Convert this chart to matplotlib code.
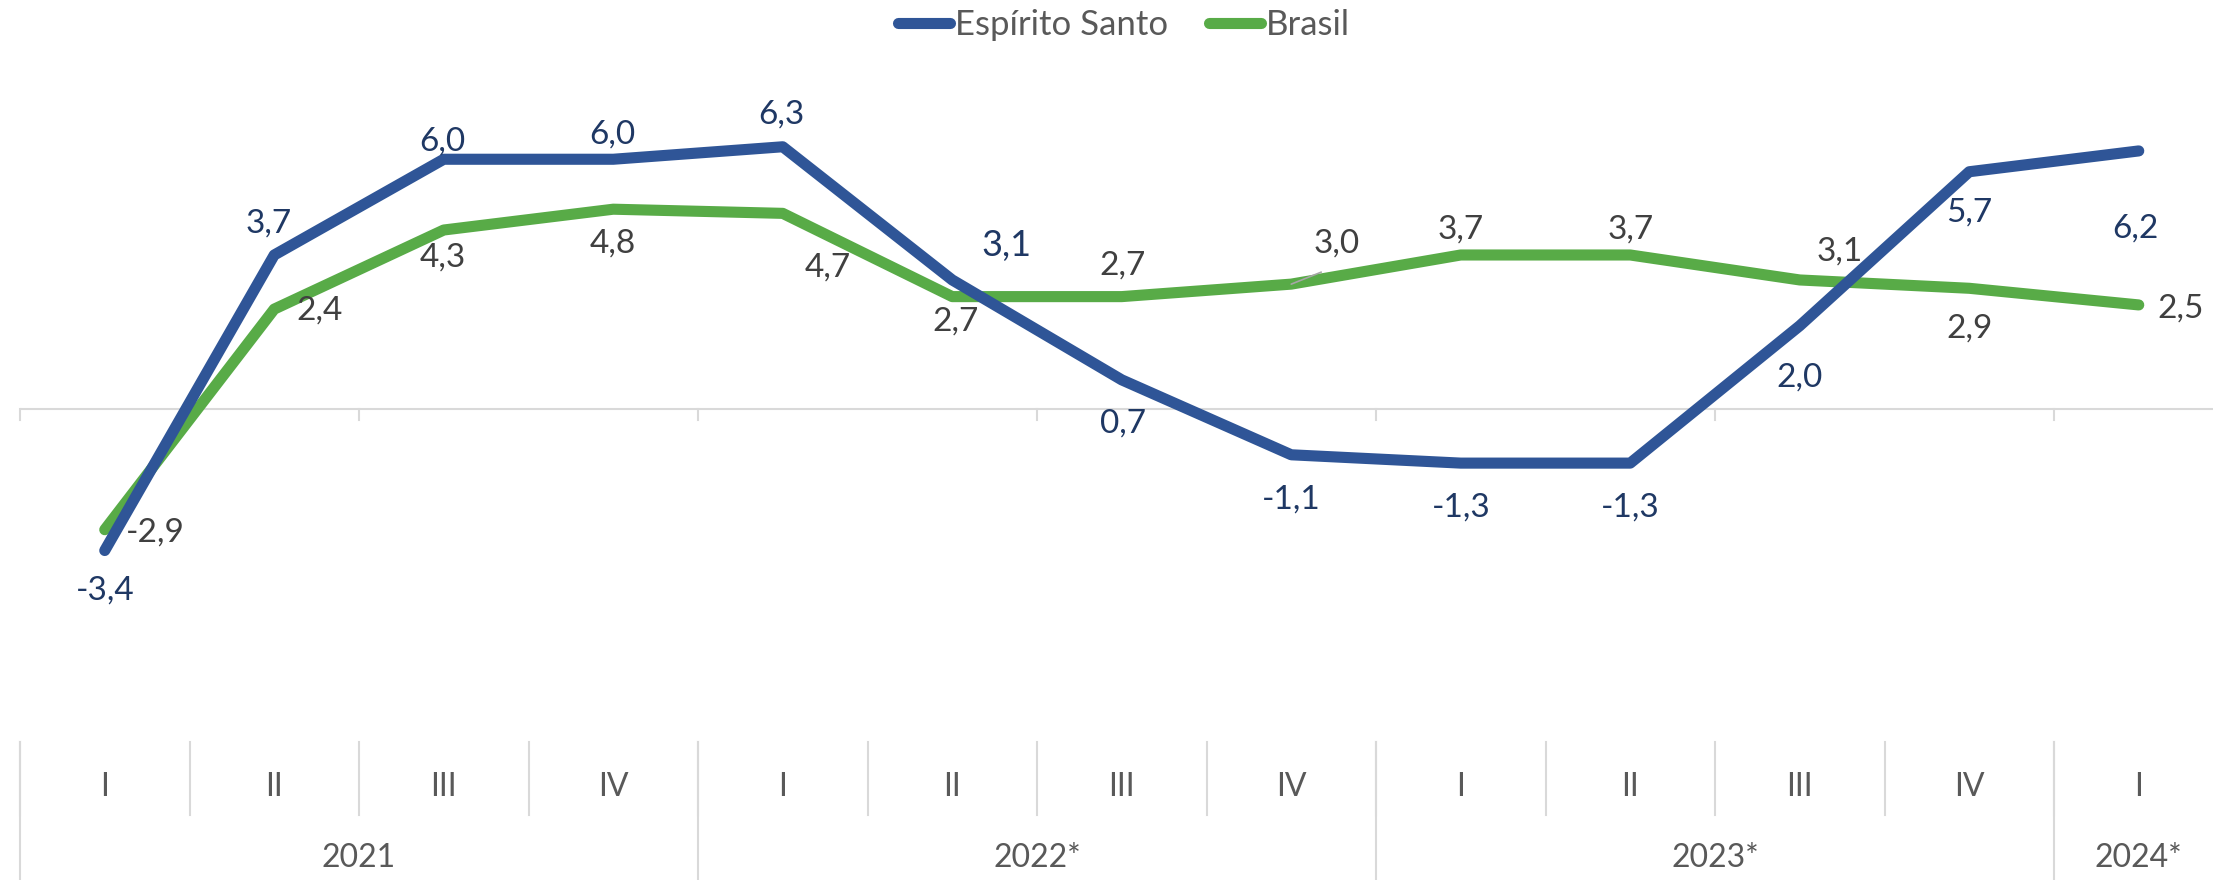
import matplotlib
matplotlib.use('Agg')
import matplotlib.pyplot as plt
import numpy as np

plt.rcParams['font.family'] = ['Lato', 'DejaVu Sans']

# data
quarters = ['I', 'II', 'III', 'IV', 'I', 'II', 'III', 'IV', 'I', 'II', 'III', 'IV', 'I']
years = ['2021', '2022*', '2023*', '2024*']
quarters_per_year = [4, 4, 4, 1]
espirito_santo = [-3.4, 3.7, 6.0, 6.0, 6.3, 3.1, 0.7, -1.1, -1.3, -1.3, 2.0, 5.7, 6.2]
brasil = [-2.9, 2.4, 4.3, 4.8, 4.7, 2.7, 2.7, 3.0, 3.7, 3.7, 3.1, 2.9, 2.5]

# label offsets in pixels (dx, dy)
es_offsets = [(0, -40), (-6, 31), (-1, 18), (-1, 25), (-1, 32), (54, 34), (1, -44),
              (0, -45), (0, -44), (0, -44), (0, -52), (0, -41), (-3, -78)]
br_offsets = [(51, -3), (45, -1), (-1, -28), (0, -34), (45, -54), (3, -25), (1, 31),
              (45, 41), (0, 25), (0, 25), (40, 28), (0, -40), (42, -4)]

BLUE = '#2F5597'
GREEN = '#58AB47'
NAVY = '#1F3864'
DARK = '#404040'
GRID = '#D9D9D9'
TXT = '#595959'

W, H = 2213, 880
fig = plt.figure(figsize=(W / 100, H / 100), dpi=100)
cell = 169.5
ax = fig.add_axes([20 / W, 1 - 742 / H, 13 * cell / W, 666 / H])

x = np.arange(len(quarters))
ax.plot(x, espirito_santo, color=BLUE, lw=8, solid_capstyle='round',
        solid_joinstyle='round', label='Espírito Santo', zorder=3)
ax.plot(x, brasil, color=GREEN, lw=8, solid_capstyle='round',
        solid_joinstyle='round', label='Brasil', zorder=2)

ax.set_xlim(-0.5, len(quarters) - 0.5)
ax.set_ylim(-8, 8)
for s in ax.spines.values():
    s.set_visible(False)
ax.set_xticks([])
ax.set_yticks([])

# horizontal axis at zero with tick marks every two categories
ax.axhline(0, color=GRID, lw=1.5, zorder=1)
for b in np.arange(-0.5, len(quarters), 2):
    ax.plot([b, b], [0, -0.27], color=GRID, lw=1.5, zorder=1, clip_on=False)

# data labels
for i, v in enumerate(espirito_santo):
    fs = 26 if i == 5 else 24
    ax.annotate(f'{v:.1f}'.replace('.', ','), (i, v), xytext=es_offsets[i],
                textcoords='offset pixels', ha='center', va='center',
                fontsize=fs, color=NAVY, zorder=5)
for i, v in enumerate(brasil):
    ax.annotate(f'{v:.1f}'.replace('.', ','), (i, v), xytext=br_offsets[i],
                textcoords='offset pixels', ha='center', va='center',
                fontsize=24, color=DARK, zorder=5)
# leader line for the 3,0 label
ax.annotate('', (7, brasil[7]), xytext=(30, 12), textcoords='offset pixels',
            arrowprops=dict(arrowstyle='-', color='#A6A6A6', lw=1.2, shrinkA=0, shrinkB=0))

# category table below the plot
tr = ax.get_xaxis_transform()
q_bot = -(815 - 742) / 666
y_bot = -0.25
for b in np.arange(-0.5, len(quarters) + 0.5, 1):
    ax.plot([b, b], [0, q_bot], color=GRID, lw=1.5, transform=tr, clip_on=False)
for i, q in enumerate(quarters):
    ax.text(i, -(787 - 742) / 666, q, transform=tr, ha='center', va='center',
            fontsize=23, color=TXT)
start = 0
for yr, n in zip(years, quarters_per_year):
    b = start - 0.5
    ax.plot([b, b], [0, y_bot], color=GRID, lw=1.5, transform=tr, clip_on=False)
    ax.text(start + (n - 1) / 2, -(858 - 742) / 666, yr, transform=tr, ha='center',
            va='center', fontsize=23, color=TXT)
    start += n

leg = fig.legend(loc='center', bbox_to_anchor=(1124 / W, 1 - 25 / H), ncol=2,
                 frameon=False, fontsize=25, handlelength=1.5, handletextpad=0.12,
                 columnspacing=1.2)
for t in leg.get_texts():
    t.set_color(TXT)
for h in leg.get_lines():
    h.set_solid_capstyle('round')

fig.savefig('out.png', dpi=100)
